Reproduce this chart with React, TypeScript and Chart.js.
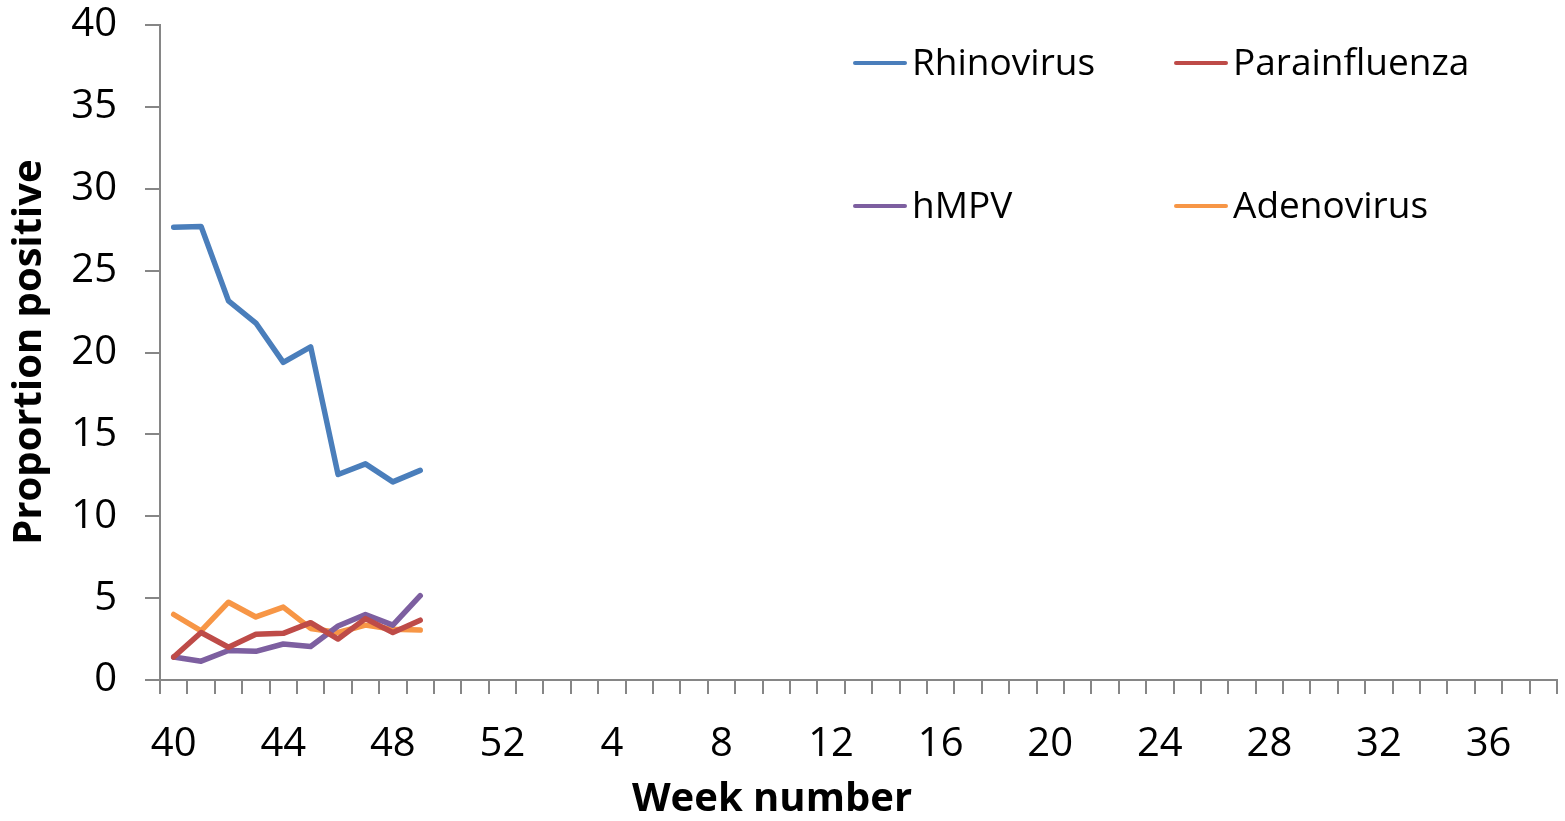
import React, { useEffect, useRef } from "react";
import { Chart, registerables } from "chart.js";

Chart.register(...registerables);

const weeks: string[] = [
  "40","41","42","43","44","45","46","47","48","49","50","51","52",
  "1","2","3","4","5","6","7","8","9","10","11","12","13","14","15","16","17","18","19",
  "20","21","22","23","24","25","26","27","28","29","30","31","32","33","34","35","36","37","38",
];

const rhinovirus = [27.65, 27.7, 23.15, 21.8, 19.4, 20.35, 12.55, 13.2, 12.1, 12.8];
const parainfluenza = [1.4, 2.9, 2.0, 2.8, 2.85, 3.5, 2.5, 3.75, 2.9, 3.65];
const hmpv = [1.4, 1.15, 1.8, 1.75, 2.2, 2.05, 3.3, 4.0, 3.35, 5.15];
const adenovirus = [4.0, 3.0, 4.75, 3.85, 4.45, 3.15, 2.9, 3.35, 3.1, 3.05];

const seriesNames = ["Rhinovirus", "Parainfluenza", "hMPV", "Adenovirus"];
const seriesColors = ["#4A7EBB", "#BE4B48", "#7D5FA0", "#F79646"];

const FONT = "'Open Sans', 'DejaVu Sans', sans-serif";
const AXIS_GRAY = "#868686";

export default function App() {
  const ref = useRef<HTMLCanvasElement | null>(null);

  useEffect(() => {
    if (!ref.current) return;
    const seriesData = [rhinovirus, parainfluenza, hmpv, adenovirus];

    const overlay = {
      id: "overlay",
      afterDraw(chart: any) {
        const ctx = chart.ctx;
        ctx.save();
        ctx.fillStyle = "#000";
        ctx.font = `bold 40px ${FONT}`;
        ctx.textAlign = "center";
        ctx.textBaseline = "middle";
        ctx.fillText("Week number", 772, 800);
        ctx.save();
        ctx.translate(30, 352);
        ctx.rotate(-Math.PI / 2);
        ctx.fillText("Proportion positive", 0, 0);
        ctx.restore();
        const pos = [
          [855, 63],
          [1176, 63],
          [855, 206],
          [1176, 206],
        ];
        ctx.font = `37px ${FONT}`;
        ctx.textAlign = "left";
        ctx.lineCap = "round";
        seriesNames.forEach((name, i) => {
          const [x, y] = pos[i];
          ctx.strokeStyle = seriesColors[i];
          ctx.lineWidth = 4;
          ctx.beginPath();
          ctx.moveTo(x, y);
          ctx.lineTo(x + 50, y);
          ctx.stroke();
          ctx.fillStyle = "#000";
          ctx.fillText(name, x + 57, y + 1);
        });
        ctx.restore();
      },
    };

    const chart = new Chart(ref.current, {
      type: "line",
      data: {
        labels: weeks,
        datasets: seriesNames.map((name, i) => ({
          label: name,
          data: seriesData[i],
          borderColor: seriesColors[i],
          backgroundColor: seriesColors[i],
          borderWidth: 5.5,
          pointRadius: 0,
          tension: 0,
          borderJoinStyle: "round" as const,
          borderCapStyle: "round" as const,
        })),
      },
      options: {
        animation: false,
        responsive: true,
        maintainAspectRatio: false,
        layout: { padding: { top: 25, right: 8, left: 0, bottom: 0 } },
        plugins: {
          legend: { display: false },
          tooltip: { enabled: false },
        },
        scales: {
          x: {
            type: "category",
            offset: true,
            afterFit(scale: any) {
              scale.height = 141;
              scale.paddingLeft = 0;
              scale.paddingRight = 0;
            },
            grid: {
              offset: true,
              drawOnChartArea: false,
              drawTicks: true,
              tickLength: 14,
              color: AXIS_GRAY,
              lineWidth: 2,
            },
            border: { color: AXIS_GRAY, width: 2 },
            ticks: {
              autoSkip: false,
              maxRotation: 0,
              padding: 27,
              color: "#000",
              font: { family: FONT, size: 40 },
              callback: (_v: any, i: number) => (i % 4 === 0 ? weeks[i] : ""),
            },
          },
          y: {
            min: 0,
            max: 40,
            afterFit(scale: any) {
              scale.width = 160;
              scale.paddingTop = 0;
              scale.paddingBottom = 0;
            },
            grid: {
              drawOnChartArea: false,
              drawTicks: true,
              tickLength: 15,
              color: AXIS_GRAY,
              lineWidth: 2,
            },
            border: { color: AXIS_GRAY, width: 2 },
            ticks: {
              stepSize: 5,
              padding: 28,
              color: "#000",
              font: { family: FONT, size: 40 },
            },
          },
        },
      },
      plugins: [overlay],
    });
    return () => chart.destroy();
  }, []);

  return (
    <div style={{ position: "fixed", left: 0, top: 0, width: 1565, height: 821, background: "#fff" }}>
      <canvas ref={ref} />
    </div>
  );
}
